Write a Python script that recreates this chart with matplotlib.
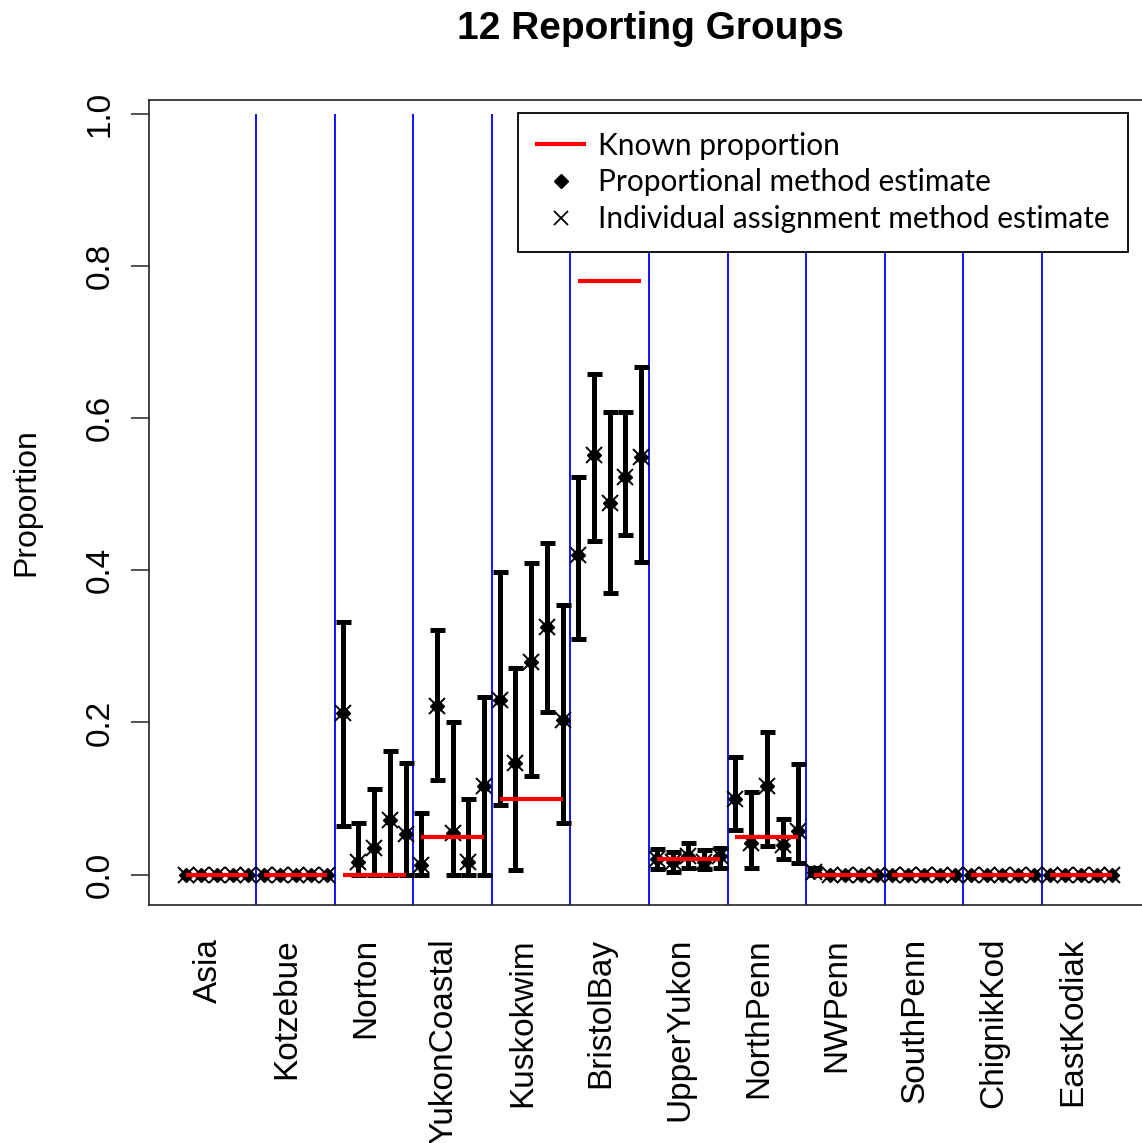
import matplotlib
matplotlib.use("Agg")
import matplotlib.pyplot as plt
from matplotlib.lines import Line2D
from matplotlib.transforms import blended_transform_factory
import numpy as np

plt.rcParams["font.family"] = ["Liberation Sans", "DejaVu Sans"]

groups = ["Asia", "Kotzebue", "Norton", "YukonCoastal", "Kuskokwim", "BristolBay",
          "UpperYukon", "NorthPenn", "NWPenn", "SouthPenn", "ChignikKod", "EastKodiak"]

# true mixture proportion of each reporting group
known = [0.0, 0.0, 0.0, 0.05, 0.10, 0.78, 0.02, 0.05, 0.0, 0.0, 0.0, 0.0]

# five replicate estimates per group, with lower / upper interval limits
est = [
    [0.0, 0.0, 0.0, 0.0, 0.0],
    [0.0, 0.0, 0.0, 0.0, 0.0],
    [0.212, 0.016, 0.035, 0.072, 0.053],
    [0.013, 0.221, 0.055, 0.016, 0.116],
    [0.230, 0.147, 0.280, 0.326, 0.203],
    [0.420, 0.551, 0.489, 0.523, 0.549],
    [0.020, 0.017, 0.024, 0.017, 0.024],
    [0.100, 0.042, 0.116, 0.039, 0.057],
    [0.003, 0.0, 0.0, 0.0, 0.0],
    [0.0, 0.0, 0.0, 0.0, 0.0],
    [0.0, 0.0, 0.0, 0.0, 0.0],
    [0.0, 0.0, 0.0, 0.0, 0.0],
]
lower = [
    [0.0, 0.0, 0.0, 0.0, 0.0],
    [0.0, 0.0, 0.0, 0.0, 0.0],
    [0.064, 0.0, 0.0, 0.0, 0.0],
    [0.0, 0.125, 0.0, 0.0, 0.0],
    [0.092, 0.006, 0.129, 0.214, 0.068],
    [0.310, 0.438, 0.370, 0.447, 0.411],
    [0.007, 0.004, 0.009, 0.007, 0.008],
    [0.058, 0.008, 0.037, 0.020, 0.015],
    [0.0, 0.0, 0.0, 0.0, 0.0],
    [0.0, 0.0, 0.0, 0.0, 0.0],
    [0.0, 0.0, 0.0, 0.0, 0.0],
    [0.0, 0.0, 0.0, 0.0, 0.0],
]
upper = [
    [0.0, 0.0, 0.0, 0.0, 0.0],
    [0.0, 0.0, 0.0, 0.0, 0.0],
    [0.332, 0.068, 0.112, 0.162, 0.147],
    [0.081, 0.322, 0.200, 0.099, 0.234],
    [0.398, 0.272, 0.410, 0.436, 0.354],
    [0.523, 0.658, 0.608, 0.608, 0.667],
    [0.034, 0.030, 0.042, 0.032, 0.035],
    [0.154, 0.108, 0.188, 0.073, 0.145],
    [0.009, 0.0, 0.0, 0.0, 0.0],
    [0.0, 0.0, 0.0, 0.0, 0.0],
    [0.0, 0.0, 0.0, 0.0, 0.0],
    [0.0, 0.0, 0.0, 0.0, 0.0],
]

W, H = 1142, 1143
fig = plt.figure(figsize=(W / 100, H / 100), dpi=100)
ax = fig.add_axes([148.5 / W, 1 - 905 / H, 1001 / W, 805 / H])

n_rep = 5
y = np.array(est).ravel()
lo = np.array(lower).ravel()
hi = np.array(upper).ravel()
x = np.arange(1, y.size + 1)

ylo, yhi = -0.04, 1.0184
ax.set_xlim(-1.36, 62.36)
ax.set_ylim(ylo, yhi)

# group separators
seps = [n_rep * k + 0.5 for k in range(1, len(groups))]
ax.vlines(seps, ylo, 1.0, color="#0000ff", lw=1.3, zorder=1)

# interval bars (only where the interval has width)
m = hi > lo
ax.errorbar(x[m], y[m], yerr=[y[m] - lo[m], hi[m] - y[m]], fmt="none",
            ecolor="black", elinewidth=3.6, capsize=5.4, capthick=3.6, zorder=2)

# point estimates: proportional (diamond) and individual assignment (x)
ax.plot(x, y, ls="none", marker="D", ms=7.5, color="black", zorder=3)
ax.plot(x, y, ls="none", marker="x", ms=12, mew=1.4, color="black", zorder=3)

# known proportions
starts = [n_rep * g + 1 for g in range(len(groups))]
ends = [n_rep * g + n_rep for g in range(len(groups))]
ax.hlines(known, starts, ends, color="red", lw=3, zorder=4)

# axes styling
for side in ("left", "bottom", "top", "right"):
    ax.spines[side].set_color("#222222")
    ax.spines[side].set_linewidth(1.2)
ax.set_xticks([])
ax.set_yticks([0.0, 0.2, 0.4, 0.6, 0.8, 1.0])
ax.set_yticklabels(["0.0", "0.2", "0.4", "0.6", "0.8", "1.0"])
ax.tick_params(axis="y", length=13, width=1.1, pad=10.5, labelsize=24, labelrotation=90,
               color="#222222")
for lbl in ax.get_yticklabels():
    lbl.set_va("center")

# group names under the axis
tr = blended_transform_factory(ax.transData, fig.transFigure)
for g, name in enumerate(groups):
    ax.text(n_rep * g + 3, 1 - 938 / H, name, transform=tr, rotation=90,
            rotation_mode="anchor", ha="right", va="baseline", fontsize=24,
            clip_on=False)

fig.text(34 / W, 1 - 502.5 / H, "Proportion", rotation=90, rotation_mode="anchor",
         ha="center", va="baseline", fontsize=23)
fig.text(650 / W, 1 - 39 / H, "12 Reporting Groups", ha="center", va="baseline",
         fontsize=28, fontweight="bold")

handles = [
    Line2D([], [], color="red", lw=3),
    Line2D([], [], ls="none", marker="D", ms=7, color="black"),
    Line2D([], [], ls="none", marker="x", ms=10, mew=1.3, color="black"),
]
labels = ["Known proportion", "Proportional method estimate",
          "Individual assignment method estimate"]
leg = ax.legend(handles, labels, loc="upper right",
                bbox_to_anchor=((1128 - 148.5) / 1001, (905 - 113) / 805),
                borderaxespad=0, fancybox=False, framealpha=1, edgecolor="black",
                prop={"family": "Lato", "size": 21.5}, handlelength=1.6,
                handletextpad=0.45, borderpad=0.62, labelspacing=0.3)
leg.get_frame().set_linewidth(1.3)

fig.savefig("out.png", dpi=100)
